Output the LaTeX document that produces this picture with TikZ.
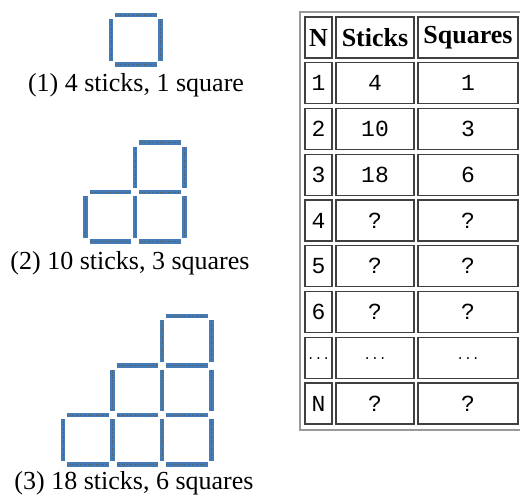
\documentclass[tikz,border=0pt]{standalone}
\usepackage{fontspec}
\setmainfont{Liberation Serif}
\newfontfamily\monofont{Liberation Mono}
\usepackage{tikz}
\usetikzlibrary{positioning}

\definecolor{stickblue}{RGB}{70,124,182}

% one square of four matchsticks, top-left corner at (#1,#2)
\newcommand{\matchsq}[2]{%
  \draw[stick] (#1+4,#2) -- (#1+45.5,#2);
  \draw[stick] (#1+4,#2+49.5) -- (#1+45.5,#2+49.5);
  \draw[stick] (#1,#2+4) -- (#1,#2+45.5);
  \draw[stick] (#1+49.5,#2+4) -- (#1+49.5,#2+45.5);
}
\newcommand{\dotrow}{\raisebox{-4pt}{\fontsize{13}{15}\selectfont...}}

\begin{document}
\begin{tikzpicture}[x=1pt, y=-1pt]
    \tikzstyle{stick} = [line width=4.5pt, draw=stickblue, postaction={draw=black!65, line width=0.7pt, dash pattern=on 1pt off 1.6pt}]
    \tikzstyle{caption} = [inner sep=0pt, font=\fontsize{26}{30}\selectfont]
    \tikzstyle{cell} = [rectangle, draw=black!75, line width=1.3pt, minimum height=41pt, inner sep=0pt, font=\monofont\fontsize{23}{26}\selectfont]
    \tikzstyle{head} = [cell, font=\bfseries\fontsize{26}{30}\selectfont]

    \useasboundingbox (0,0) rectangle (520,498);

    % figure 1
    \matchsq{111}{15}
    \node [caption] (cap1) at (136,85) {(1) 4 sticks, 1 square};

    % figure 2
    \matchsq{135}{142.5}
    \matchsq{85.5}{192}
    \matchsq{135}{192}
    \node [caption] (cap2) at (130,263) {(2) 10 sticks, 3 squares};

    % figure 3
    \foreach \x/\y in {162/316, 112.5/365.5, 162/365.5, 63/415, 112.5/415, 162/415} {
        \matchsq{\x}{\y}
    }
    \node [caption] (cap3) at (134,483) {(3) 18 sticks, 6 squares};

    % table
    \draw [draw=gray!80, line width=1.6pt] (300,12) rectangle (521,430);
    \node [head, minimum width=27pt] (hn) at (318.5,37.5) {N};
    \node [head, minimum width=78pt] (hst) at (375,37.5) {Sticks};
    \node [head, minimum width=100pt] (hsq) at (468,37.5) {Squares};
    \foreach \n/\s/\q [count=\i] in {1/4/1, 2/10/3, 3/18/6, 4/?/?, 5/?/?, 6/?/?, \dotrow/\dotrow/\dotrow, N/?/?} {
        \node [cell, minimum width=27pt] (n\i) at (318.5,37.5+45.75*\i) {\n};
        \node [cell, minimum width=78pt] (st\i) at (375,37.5+45.75*\i) {\s};
        \node [cell, minimum width=100pt] (sq\i) at (468,37.5+45.75*\i) {\q};
    }
\end{tikzpicture}
\end{document}
